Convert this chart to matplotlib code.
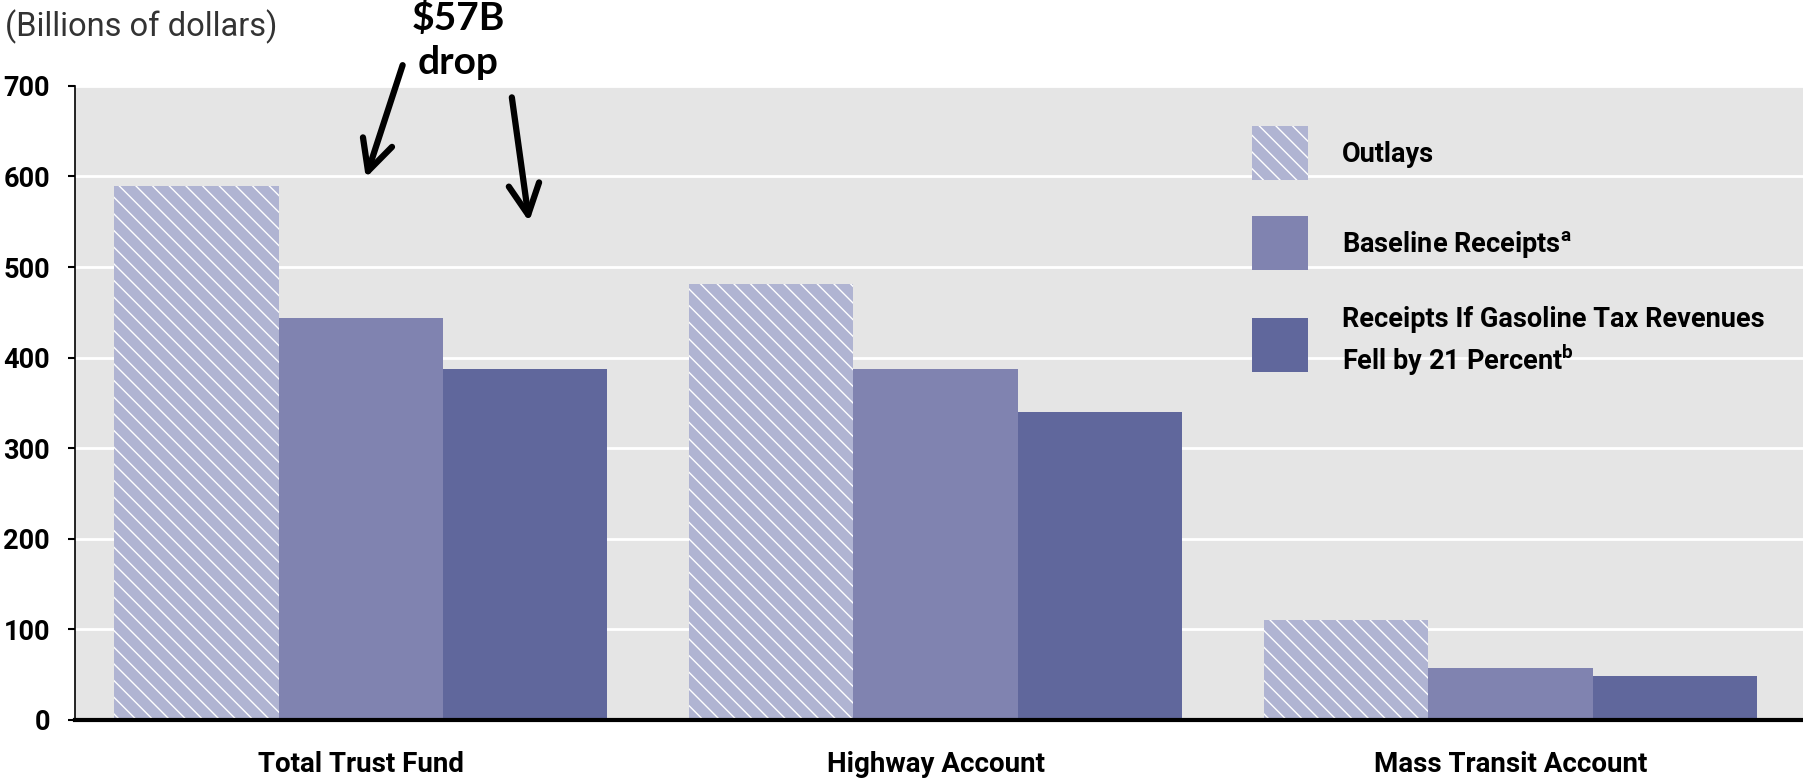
import numpy as np
import matplotlib
matplotlib.use("Agg")
import matplotlib.pyplot as plt

# data (billions of dollars)
categories = ["Total Trust Fund", "Highway Account", "Mass Transit Account"]
outlays = [590, 481, 110]
baseline_receipts = [444, 388, 57]
gas_drop_receipts = [387, 340, 48]
series_labels = ["Outlays", r"Baseline Receipts$^{\mathbf{a}}$",
                 "Receipts If Gasoline Tax Revenues\n" + r"Fell by 21 Percent$^{\mathbf{b}}$"]
yticks = [0, 100, 200, 300, 400, 500, 600, 700]

plt.rcParams["font.family"] = ["Roboto", "DejaVu Sans"]
plt.rcParams["mathtext.fontset"] = "custom"
plt.rcParams["mathtext.bf"] = "Roboto:bold"
plt.rcParams["mathtext.rm"] = "Roboto"
plt.rcParams["hatch.linewidth"] = 1.0

fig = plt.figure(figsize=(18.03, 7.78), dpi=100)
ax = fig.add_axes([0.0416, 0.0746, 0.9584, 0.815])
ax.set_facecolor("#e5e5e5")

x = np.arange(len(categories))
w = 0.286
ax.bar(x - w, outlays, w, color="#b0b4d2", edgecolor="white", linewidth=0,
       hatch="\\\\", label=series_labels[0], zorder=3)
ax.bar(x, baseline_receipts, w, color="#8083b0", linewidth=0,
       label=series_labels[1], zorder=3)
ax.bar(x + w, gas_drop_receipts, w, color="#60679c", linewidth=0,
       label=series_labels[2], zorder=3)

ax.set_xlim(-0.497, 2.509)
ax.set_ylim(0, 700)
ax.set_yticks(yticks)
ax.set_yticklabels([str(t) for t in yticks], fontsize=19.5, fontweight="bold")
ax.set_xticks(x)
ax.set_xticklabels(categories, fontsize=20, fontweight="bold")
ax.tick_params(axis="x", length=0, pad=22)
ax.tick_params(axis="y", length=5, width=1.5, pad=13, direction="out")
ax.yaxis.grid(True, color="white", linewidth=2, zorder=1)
ax.set_axisbelow(True)
for s in ["top", "right"]:
    ax.spines[s].set_visible(False)
ax.spines["left"].set_linewidth(1.2)
ax.spines["bottom"].set_linewidth(3)
ax.spines["bottom"].set_zorder(4)

fig.text(0.003, 0.966, "(Billions of dollars)", fontsize=23.5, color="#333333",
         va="center", ha="left")

leg = ax.legend(loc="upper left", bbox_to_anchor=(0.681, 0.936), frameon=False,
                handlelength=2.07, handleheight=2.69, handletextpad=1.27,
                labelspacing=1.33, borderpad=0, borderaxespad=0,
                prop={"weight": "bold", "size": 19.5})
for t in leg.get_texts():
    t.set_linespacing(1.35)

# annotation
ax.text(0.2216, 1.072, "$57B\ndrop", transform=ax.transAxes, ha="center", va="center",
        fontsize=28, fontweight="bold", family="Lato", linespacing=1.3)
arrow = dict(arrowstyle="->,head_length=2.2,head_width=1.1",
             color="black", lw=4.5, shrinkA=0, shrinkB=0)
ax.annotate("", xy=(0.1683, 0.855), xytext=(0.1896, 1.0327),
            xycoords="axes fraction", arrowprops=arrow)
ax.annotate("", xy=(0.2628, 0.7858), xytext=(0.2528, 0.9819),
            xycoords="axes fraction", arrowprops=arrow)

fig.savefig("out.png", dpi=100)
